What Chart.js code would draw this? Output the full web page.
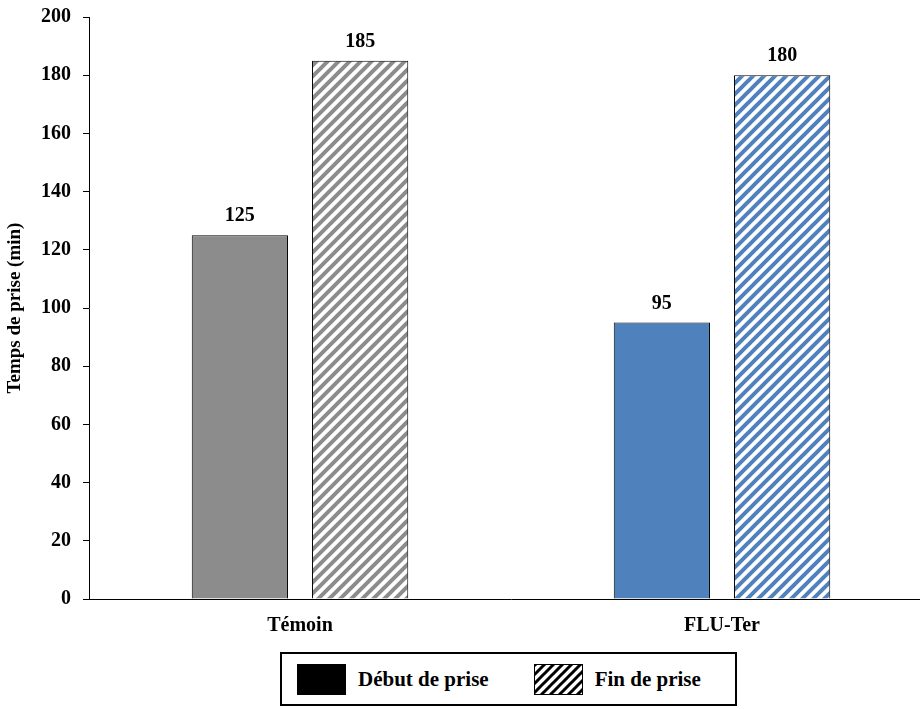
<!DOCTYPE html>
<html>
<head>
<meta charset="utf-8">
<script src="https://cdn.jsdelivr.net/npm/chart.js@4"></script>
<style>
  body { margin: 0; background: #fff; font-family: "Liberation Serif", serif; overflow: hidden; }
  #wrap { position: relative; width: 920px; height: 709px; overflow: hidden; }
  #box { position: absolute; left: 0; top: -7px; width: 933px; height: 647px; }
  #legend {
    position: absolute; left: 280px; top: 652px; width: 453px; height: 50px;
    border: 2px solid #000; display: flex; align-items: center;
    font-weight: bold; font-size: 21px;
  }
  #legend .item { display: flex; align-items: center; }
  #legend canvas { border: 1px solid #000; margin-right: 12px; }
</style>
</head>
<body>
<div id="wrap">
  <div id="box"><canvas id="barChart"></canvas></div>
  <div id="legend">
    <div class="item" style="margin-left:15px"><canvas id="sw1" width="47" height="29"></canvas>Début de prise</div>
    <div class="item" style="margin-left:45px"><canvas id="sw2" width="47" height="29"></canvas>Fin de prise</div>
  </div>
</div>
<script>
// DATA
const categories = ['Témoin', 'FLU-Ter'];
const debutPrise = [125, 95];
const finPrise = [185, 180];
const yTicks = [0, 20, 40, 60, 80, 100, 120, 140, 160, 180, 200];

const GREY = '#8c8c8c';
const BLUE = '#4f81bd';

// diagonal hatch pattern, stripes going up to the right
function hatch(color, size, width) {
  const c = document.createElement('canvas');
  c.width = size; c.height = size;
  const g = c.getContext('2d');
  g.fillStyle = '#fff';
  g.fillRect(0, 0, size, size);
  g.strokeStyle = color;
  g.lineWidth = width;
  g.beginPath();
  g.moveTo(-1, size + 1); g.lineTo(size + 1, -1);
  g.moveTo(-size / 2, size / 2); g.lineTo(size / 2, -size / 2);
  g.moveTo(size / 2, size * 1.5); g.lineTo(size * 1.5, size / 2);
  g.stroke();
  return g.createPattern(c, 'repeat');
}

const ctx = document.getElementById('barChart').getContext('2d');

// value labels above bars
const valueLabels = {
  id: 'valueLabels',
  afterDatasetsDraw(chart) {
    const c = chart.ctx;
    c.save();
    c.fillStyle = '#000';
    c.font = 'bold 20px "Liberation Serif"';
    c.textAlign = 'center';
    c.textBaseline = 'bottom';
    chart.data.datasets.forEach((ds, i) => {
      chart.getDatasetMeta(i).data.forEach((bar, j) => {
        c.fillText(ds.data[j], bar.x, bar.y - 9);
      });
    });
    c.restore();
  }
};

const tickFont = { family: 'Liberation Serif', size: 20, weight: 'bold' };

const myChart = new Chart(ctx, {
    type: 'bar',
    data: {
        labels: categories,
        datasets: [{
            label: 'Début de prise',
            data: debutPrise,
            backgroundColor: [GREY, BLUE],
            borderColor: '#000',
            borderWidth: 1
        }, {
            label: 'Fin de prise',
            data: finPrise,
            backgroundColor: [hatch(GREY, 11, 4), hatch(BLUE, 11, 4)],
            borderColor: '#000',
            borderWidth: 1
        }]
    },
    options: {
      responsive: true,
      maintainAspectRatio: false,
      animation: false,
      categoryPercentage: 0.57,
      barPercentage: 0.8,
      layout: { padding: { top: 0, right: 0 } },
      plugins: {
        legend: { display: false },
        tooltip: { enabled: false }
      },
      scales: {
        x: {
          grid: { display: false },
          border: { display: true, color: '#000', width: 1 },
          ticks: { color: '#000', font: tickFont, padding: 7 },
          afterFit(scale) { scale.height = 41; }
        },
        y: {
          min: 0,
          max: 200,
          afterBuildTicks(scale) { scale.ticks = yTicks.map(v => ({ value: v })); },
          grid: { drawOnChartArea: false, tickLength: 6, color: '#000' },
          border: { display: true, color: '#000', width: 1 },
          ticks: { color: '#000', font: tickFont, padding: 12 },
          title: {
            display: true, text: 'Temps de prise (min)', color: '#000',
            font: { family: 'Liberation Serif', size: 19, weight: 'bold' }, padding: 4
          },
          afterFit(scale) { scale.width = 89; }
        }
      }
    },
    plugins: [valueLabels]
});

// legend swatches
const s1 = document.getElementById('sw1').getContext('2d');
s1.fillStyle = '#000';
s1.fillRect(0, 0, 47, 29);
const s2 = document.getElementById('sw2').getContext('2d');
s2.fillStyle = hatch('#000', 9, 3);
s2.fillRect(0, 0, 47, 29);
</script>
</body>
</html>
